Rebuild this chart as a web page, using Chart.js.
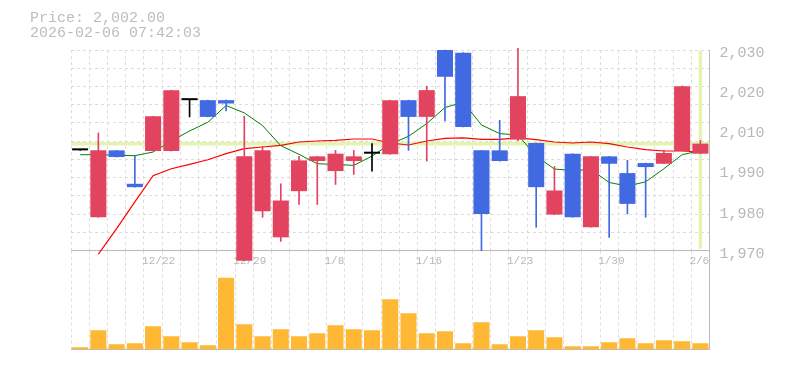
<!DOCTYPE html>
<html>
<head>
<meta charset="utf-8">
<script src="https://cdn.jsdelivr.net/npm/chart.js@4.4.1/dist/chart.umd.min.js"></script>
<style>
  html, body { margin: 0; padding: 0; background: #fff; }
  #wrap { position: relative; width: 785px; height: 370px; overflow: hidden; }
  #wrap canvas { position: absolute; left: 0; top: 0; }
  #info {
    position: absolute; left: 30px; top: 11px;
    font: 15px/15px "Liberation Mono", monospace;
    color: #bdbdbd; white-space: pre;
  }
</style>
</head>
<body>
<div id="wrap">
  <canvas id="volumeChart" width="785" height="370"></canvas>
  <canvas id="priceChart" width="785" height="370"></canvas>
  <div id="info">Price: 2,002.00
2026-02-06 07:42:03</div>
</div>
<script>
// données
const dates = ['12/16', '12/17', '12/18', '12/19', '12/22', '12/23', '12/24', '12/25', '12/26', '12/29',
  '12/30', '1/5', '1/6', '1/7', '1/8', '1/9', '1/13', '1/14', '1/15', '1/16',
  '1/19', '1/20', '1/21', '1/22', '1/23', '1/26', '1/27', '1/28', '1/29', '1/30',
  '2/2', '2/3', '2/4', '2/5', '2/6'];

const opens = [2000, 1980, 2000, 1990, 1999.8, 1999.8, 2015, 2015, 2015, 1967,
  1981.8, 1974, 1987.8, 1996.8, 1993.8, 1996.8, 1999, 1998.8, 2015, 2010,
  2030, 2029.2, 2000, 2000, 2003.2, 2002.2, 1980.8, 1999, 1977, 1998.2,
  1993.2, 1996.2, 1996, 1999.8, 1999];
const highs = [2000, 2005.2, 2000, 1998.5, 2010.2, 2018, 2015, 2015, 2015, 2010.2,
  2001.2, 1990, 1998.2, 1998.2, 2000, 2000, 2002, 2015, 2015, 2019.2,
  2030, 2029.2, 2000, 2009, 2030.5, 2002.2, 1995.2, 1999, 1998.2, 1998.2,
  1997, 1996.2, 2000, 2019.2, 2003];
const lows = [2000, 1980, 1998, 1989, 1999.8, 1999.8, 2010, 2010, 2011.8, 1967,
  1980, 1972.8, 1983.8, 1983.8, 1989.8, 1992.8, 1993.8, 1998.8, 2000, 1996.8,
  2008.8, 2007, 1970, 1996.8, 2002.8, 1977, 1980.8, 1980, 1977, 1974,
  1981, 1980, 1996, 1999.8, 1999];
const closes = [2000, 2000, 1998, 1989, 2010.2, 2018, 2015, 2010, 2014, 1998.2,
  2000, 1985, 1997, 1998.2, 1999, 1998.2, 1999, 2015, 2010, 2018,
  2022, 2007, 1981, 1996.8, 2016.2, 1989, 1988, 1980, 1998.2, 1996,
  1984, 1995, 1999.2, 2019.2, 2002];

// moyennes mobiles (vert = courte, rouge = longue)
const maShort = [1998.7, 1998.7, 1998.5, 1998.4, 1999.5, 2002.8, 2005.8, 2008.4, 2013.4, 2011.2,
  2007.4, 2001.4, 1998.8, 1996, 1995.8, 1995.5, 1998.3, 2001.9, 2004.2, 2008,
  2012.8, 2014.4, 2007.6, 2005, 2004.6, 1998.3, 1994.4, 1994, 1994.3, 1990.4,
  1989.3, 1990.6, 1994.5, 1998.7, 1999.9];
const maLong = [null, 1969, 1976.6, 1984.6, 1992.4, 1994.5, 1995.8, 1997.2, 1999, 2000.5,
  2001, 2001.5, 2002.5, 2002.8, 2003, 2003.4, 2003.4, 2002.2, 2001.6, 2002.8,
  2003.6, 2003.7, 2003.3, 2003.3, 2003.7, 2003.2, 2002.5, 2002.2, 2002.5, 2002,
  2001, 2000.2, 1999.8, 1999.8, 1999.5];

const volumes = [2300, 19300, 5300, 6300, 23300, 13300, 7300, 4300, 71700, 25300,
  13300, 20300, 13300, 16300, 24300, 20300, 19300, 50300, 36300, 16300,
  18300, 6300, 27300, 5300, 13300, 19300, 12300, 3300, 3300, 7300,
  11300, 6300, 9300, 8300, 6300];

const yTickLabels = ['2,030', '2,020', '2,010', '1,990', '1,980', '1,970'];
const currentPrice = 2002;
const yMin = 1970;
const yMax = 2030;
const volumeMax = 98800;

const UP = '#e2435f';
const DOWN = '#4169e1';
const FLAT = '#000000';
const candleColors = dates.map((_, i) =>
  closes[i] > opens[i] ? UP : (closes[i] < opens[i] ? DOWN : FLAT));

const axisColor = '#bbbbbb';
const gridColor = '#dddddd';
const labelColor = '#b8b8b8';

// ligne du prix actuel (horizontale + verticale sur la dernière bougie)
const priceLinePlugin = {
  id: 'priceLine',
  beforeDatasetsDraw(chart) {
    const { ctx, chartArea, scales } = chart;
    const py = scales.y.getPixelForValue(currentPrice);
    const px = scales.x.getPixelForValue(dates.length - 1);
    ctx.save();
    ctx.strokeStyle = '#e3f3b0';
    ctx.lineWidth = 3.5;
    ctx.beginPath();
    ctx.moveTo(chartArea.left, py);
    ctx.lineTo(chartArea.right, py);
    ctx.moveTo(px, chartArea.top + 1);
    ctx.lineTo(px, chartArea.bottom - 2);
    ctx.stroke();
    ctx.restore();
  }
};

// -------------------- Graphique des prix
new Chart(document.getElementById('priceChart'), {
  type: 'bar',
  data: {
    labels: dates,
    datasets: [
      {
        label: 'body',
        data: dates.map((_, i) => [opens[i], closes[i]]),
        backgroundColor: candleColors,
        barPercentage: 0.88,
        categoryPercentage: 1,
        grouped: false,
        minBarLength: 2,
        clip: false,
        order: 0
      },
      {
        label: 'wick',
        data: dates.map((_, i) => [lows[i], highs[i]]),
        backgroundColor: candleColors,
        barThickness: 1,
        grouped: false,
        clip: false,
        order: 1
      },
      {
        type: 'line',
        label: 'MA court',
        data: maShort,
        borderColor: '#008000',
        borderWidth: 1,
        pointRadius: 0,
        tension: 0,
        clip: false,
        order: 2
      },
      {
        type: 'line',
        label: 'MA long',
        data: maLong,
        borderColor: '#ff0000',
        borderWidth: 1.2,
        pointRadius: 0,
        tension: 0,
        clip: false,
        order: 3
      }
    ]
  },
  options: {
    responsive: false,
    animation: false,
    events: [],
    layout: { padding: { left: 71, top: 50, right: 0, bottom: 0 } },
    plugins: { legend: { display: false }, tooltip: { enabled: false } },
    scales: {
      x: {
        grid: { color: gridColor, drawTicks: false },
        border: { color: axisColor, dash: [3, 3] },
        ticks: {
          autoSkip: false,
          maxRotation: 0,
          align: 'start',
          labelOffset: -11,
          padding: 4,
          color: labelColor,
          font: { family: 'Liberation Mono', size: 11 },
          callback: (v, i) => ((i + 1) % 5 === 0 ? dates[i] : '')
        },
        afterFit: (scale) => { scale.height = 119.3; }
      },
      yGrid: {
        type: 'linear',
        position: 'left',
        min: yMin,
        max: yMax,
        afterBuildTicks: (scale) => {
          const n = 11;
          scale.ticks = Array.from({ length: n + 1 }, (_, k) => ({ value: yMin + k * (yMax - yMin) / n }));
        },
        grid: { color: gridColor, drawTicks: false },
        border: { display: false, dash: [3, 3] },
        ticks: { display: false }
      },
      y: {
        type: 'linear',
        position: 'right',
        min: yMin,
        max: yMax,
        afterBuildTicks: (scale) => {
          const step = (yMax - yMin) / (yTickLabels.length - 1);
          scale.ticks = yTickLabels.map((_, k) => ({ value: yMax - k * step }));
        },
        grid: { display: false, drawTicks: false },
        border: { color: axisColor },
        ticks: {
          padding: 10,
          labelOffset: 3,
          color: labelColor,
          font: { family: 'Liberation Mono', size: 15 },
          callback: (v, i) => yTickLabels[i]
        },
        afterFit: (scale) => { scale.width = 75.5; }
      }
    }
  },
  plugins: [priceLinePlugin]
});

// -------------------- Graphique des volumes
new Chart(document.getElementById('volumeChart'), {
  type: 'bar',
  data: {
    labels: dates,
    datasets: [{
      label: 'volume',
      data: volumes,
      backgroundColor: '#ffb833',
      barPercentage: 0.88,
      categoryPercentage: 1
    }]
  },
  options: {
    responsive: false,
    animation: false,
    events: [],
    layout: { padding: { left: 71, top: 250.7, right: 75.5, bottom: 20.5 } },
    plugins: { legend: { display: false }, tooltip: { enabled: false } },
    scales: {
      x: {
        grid: { color: gridColor, drawTicks: false },
        border: { color: axisColor, dash: [3, 3] },
        ticks: { display: false }
      },
      y: {
        position: 'right',
        min: 0,
        max: volumeMax,
        grid: { display: false, drawTicks: false },
        border: { color: axisColor },
        ticks: { display: false }
      }
    }
  }
});
</script>
</body>
</html>
